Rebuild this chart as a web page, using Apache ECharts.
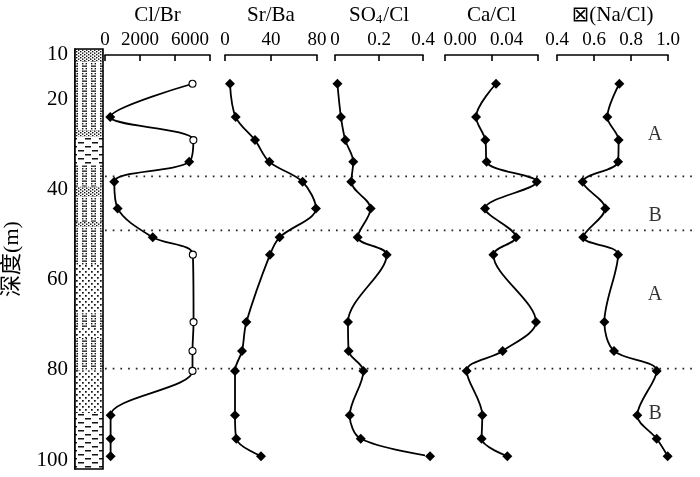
<!DOCTYPE html>
<html><head><meta charset="utf-8">
<script src="https://cdn.jsdelivr.net/npm/echarts@6/dist/echarts.min.js"></script>
<style>html,body{margin:0;padding:0;background:#fff}#c{width:700px;height:477px}</style>
</head><body><div id="c"></div>
<script>
// ---- data ----
const depths = [15.2, 22.7, 27.9, 32.8, 37.3, 43.3, 49.8, 53.7, 68.9, 75.4, 79.9, 89.9, 95.2, 99.1];
const clBr = [5000, 300, 5050, 4810, 530, 720, 2730, 5020, 5060, 5000, 5000, 320, 320, 320];
const clBrSampleKind = ['o','d','o','d','d','d','d','o','o','o','o','d','d','d'];
const srBa = [4.3, 9.3, 26.1, 38.6, 67.5, 79.1, 47.5, 39.1, 18.6, 14.8, 8.7, 8.7, 9.8, 31.3];
const so4Cl = [0.011, 0.027, 0.047, 0.083, 0.074, 0.162, 0.103, 0.235, 0.059, 0.062, 0.129, 0.067, 0.117, 0.432];
const caCl = [0.0439, 0.0267, 0.0347, 0.0358, 0.0789, 0.0344, 0.0611, 0.0416, 0.0783, 0.0496, 0.0186, 0.0321, 0.0315, 0.0536];
const naCl = [0.737, 0.672, 0.733, 0.730, 0.539, 0.661, 0.542, 0.730, 0.656, 0.708, 0.939, 0.834, 0.939, 0.998];
const zoneBoundaries = [37.0, 49.0, 79.7];
const zoneNames = ['A', 'B', 'A', 'B'];
const zoneMidDepths = [26.7, 45.0, 62.8, 89.6];
const lithTop = [8.7, 11.5, 26.7, 28.2, 34.5, 39.3, 41.5, 47.1, 48.2, 56.7, 67.4, 70.7, 72.9, 80.1, 89.6];
const lithBottom = [11.5, 26.7, 28.2, 34.5, 39.3, 41.5, 47.1, 48.2, 56.7, 67.4, 70.7, 72.9, 80.1, 89.6, 102];
const lithType = ['sand','silt','sand','clay','silt','sand','silt','sand','silt','fine','silt','fine','silt','fine','clay'];
const depthTicks = [10, 20, 40, 60, 80, 100];
const panelTitles = ['Cl/Br', 'Sr/Ba', '{a|SO}{s|4}{a|/Cl}', 'Ca/Cl', '⊠(Na/Cl)'];
const clBrTicks = [0, 2000, 6000];
const srBaTicks = [0, 40, 80];
const so4Ticks = [0, 0.2, 0.4];
const caTicks = [0, 0.04];
const naTicks = [0.4, 0.6, 0.8, 1.0];

// ---- layout / style ----
const SERIF = 'Liberation Serif';
const D_MIN = 8.7, D_MAX = 102;
const TOP = 49, HEIGHT = 420;

function makePattern(kind) {
  const c = document.createElement('canvas');
  let w = 4, h = 3;
  if (kind === 'fine') { w = 6; h = 6; }
  if (kind === 'clay') { w = 14; h = 8; }
  if (kind === 'silt') { w = 9; h = 5; }
  c.width = w; c.height = h;
  const ctx = c.getContext('2d');
  ctx.fillStyle = '#fff'; ctx.fillRect(0, 0, w, h);
  ctx.fillStyle = '#111';
  if (kind === 'sand') { ctx.fillRect(0, 0, 1.4, 1.4); ctx.fillRect(2, 1.5, 1.4, 1.4); }
  if (kind === 'fine') { ctx.fillRect(1, 1, 1.7, 1.7); ctx.fillRect(4, 4, 1.7, 1.7); }
  if (kind === 'clay') { ctx.fillRect(1, 2, 6, 1.5); ctx.fillRect(8, 6, 6, 1.5); }
  if (kind === 'silt') { ctx.fillRect(1, 0.5, 5, 1.3); ctx.fillRect(1, 3, 1.4, 1.4); ctx.fillRect(4.6, 3, 1.4, 1.4); }
  return { image: c, repeat: 'repeat' };
}
const patterns = {};
['sand','silt','clay','fine'].forEach(k => patterns[k] = makePattern(k));

const panels = [
  { title: panelTitles[0], min: 0, max: 6000, interval: 2000, labels: clBrTicks, vals: clBr, left: 105, width: 105,
    fmt: v => (v === 6000 ? '{r|' + v + '}' : '' + v) },
  { title: panelTitles[1], min: 0, max: 80, interval: 40, labels: srBaTicks, vals: srBa, left: 225, width: 92,
    fmt: v => '' + v },
  { title: panelTitles[2], min: 0, max: 0.4, interval: 0.2, labels: so4Ticks, vals: so4Cl, left: 335, width: 88,
    fmt: v => '' + v },
  { title: panelTitles[3], min: 0, max: 0.08, interval: 0.04, labels: caTicks, vals: caCl, left: 445, width: 93,
    fmt: v => '{p|' + v.toFixed(2) + '}' },
  { title: panelTitles[4], min: 0.4, max: 1.0, interval: 0.2, labels: naTicks, vals: naCl, left: 557, width: 111,
    fmt: v => v.toFixed(1) }
];

const grids = [{ left: 75, width: 28, top: TOP, height: HEIGHT, show: true, borderColor: '#000', borderWidth: 1.6, backgroundColor: 'transparent', z: 5 }];
const xAxes = [{ gridIndex: 0, type: 'value', min: 0, max: 1, show: false }];
const yAxes = [{
  gridIndex: 0, type: 'value', inverse: true, min: D_MIN, max: D_MAX, position: 'left',
  axisLine: { show: true, lineStyle: { color: '#000', width: 1.6 } },
  axisTick: { show: true, inside: true, length: 5, customValues: depthTicks, lineStyle: { color: '#000', width: 1.2 } },
  axisLabel: { customValues: depthTicks, fontSize: 21, fontFamily: SERIF, color: '#000', margin: 7 },
  splitLine: { show: false },
  name: '深度(m)', nameLocation: 'middle', nameRotate: 90, nameGap: 52,
  nameTextStyle: { fontSize: 22, fontFamily: SERIF + ', Noto Sans CJK SC', color: '#000' }
}];
const series = [];

series.push({
  type: 'custom', xAxisIndex: 0, yAxisIndex: 0, silent: true,
  data: lithTop.map((t, i) => [t, lithBottom[i], i]),
  encode: { y: [0, 1] },
  renderItem: function (params, api) {
    const t = api.value(0), b = api.value(1), k = lithType[api.value(2)];
    const p1 = api.coord([0, t]), p2 = api.coord([1, b]);
    return { type: 'rect', shape: { x: p1[0], y: p1[1], width: p2[0] - p1[0], height: p2[1] - p1[1] },
             style: { fill: patterns[k], stroke: null } };
  }
});

panels.forEach((p, i) => {
  const gi = i + 1;
  grids.push({ left: p.left, width: p.width, top: TOP, height: HEIGHT });
  xAxes.push({
    gridIndex: gi, type: 'value', position: 'top', min: p.min, max: p.max, interval: p.interval,
    axisLine: { show: true, onZero: false, lineStyle: { color: '#000', width: 1.6 } },
    axisTick: { show: true, inside: true, length: 6, lineStyle: { color: '#000', width: 1.6 } },
    axisLabel: { customValues: p.labels, formatter: p.fmt, fontSize: 19, fontFamily: SERIF, color: '#000', margin: 5,
      rich: { r: { fontSize: 19, fontFamily: SERIF, padding: [0, 40, 0, 0] }, p: { fontSize: 19, fontFamily: SERIF, padding: [0, 0, 0, 30] } } },
    splitLine: { show: false },
    name: p.title, nameLocation: 'middle', nameGap: 28,
    nameTextStyle: { fontSize: 21, fontFamily: SERIF + ', DejaVu Sans', color: '#000',
      rich: { a: { fontSize: 21, fontFamily: SERIF }, s: { fontSize: 13, fontFamily: SERIF, verticalAlign: 'bottom', padding: [8, 1, 0, 0] } } }
  });
  yAxes.push({ gridIndex: gi, type: 'value', inverse: true, min: D_MIN, max: D_MAX, show: false });
  const data = depths.map((d, j) => {
    if (i === 0 && clBrSampleKind[j] === 'o') {
      return { value: [p.vals[j], d], symbol: 'circle', symbolSize: 7,
               itemStyle: { color: '#fff', borderColor: '#000', borderWidth: 1.1 } };
    }
    return { value: [p.vals[j], d] };
  });
  series.push({
    type: 'line', xAxisIndex: gi, yAxisIndex: gi, data: data, smooth: 0.33, z: 4,
    symbol: 'diamond', symbolSize: 10, showSymbol: true, clip: false,
    itemStyle: { color: '#000' }, lineStyle: { color: '#000', width: 1.8 }, silent: true
  });
});

// overlay grid for the zone boundary lines
const og = grids.length;
grids.push({ left: 105, width: 590, top: TOP, height: HEIGHT });
xAxes.push({ gridIndex: og, type: 'value', min: 0, max: 1, show: false });
yAxes.push({ gridIndex: og, type: 'value', inverse: true, min: D_MIN, max: D_MAX, show: false });
zoneBoundaries.forEach(d => {
  series.push({ type: 'line', xAxisIndex: og, yAxisIndex: og, data: [[0, d], [1, d]], symbol: 'none', z: 1, silent: true,
    lineStyle: { color: '#222', width: 1.7, type: [1.7, 6] } });
});

// zone labels in the Na/Cl panel
series.push({
  type: 'scatter', xAxisIndex: 5, yAxisIndex: 5, symbolSize: 1, silent: true,
  itemStyle: { color: 'rgba(0,0,0,0)' },
  data: zoneMidDepths.map((d, i) => ({ value: [0.93, d], name: zoneNames[i] })),
  label: { show: true, position: 'inside', formatter: '{b}', fontSize: 20, fontFamily: SERIF, color: '#000' }
});

const chart = echarts.init(document.getElementById('c'), null, { renderer: 'canvas' });
chart.setOption({ animation: false, backgroundColor: '#fff', grid: grids, xAxis: xAxes, yAxis: yAxes, series: series });
</script>
</body></html>
